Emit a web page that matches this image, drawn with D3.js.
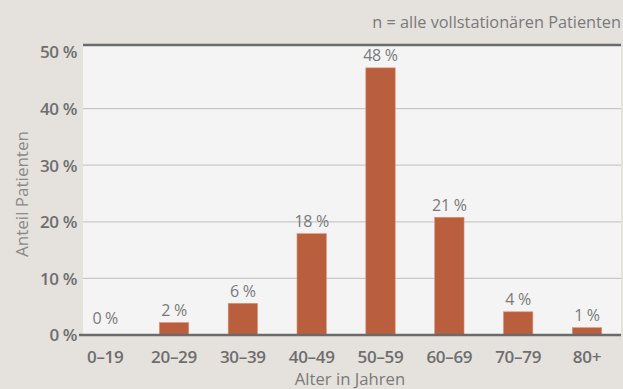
<!DOCTYPE html>
<html><head><meta charset="utf-8">
<script src="https://cdn.jsdelivr.net/npm/d3@7"></script>
<style>
html,body{margin:0;padding:0;background:#e5e1dd;}
svg{display:block;font-family:"Open Sans",sans-serif;}
</style></head>
<body><svg id="c" width="623" height="389"></svg>
<script>
const categories = ["0–19","20–29","30–39","40–49","50–59","60–69","70–79","80+"];
const values = [0, 2.2, 5.6, 17.9, 47.2, 20.8, 4.1, 1.3];
const valueLabels = ["0 %","2 %","6 %","18 %","48 %","21 %","4 %","1 %"];
const yTicks = [0,10,20,30,40,50];
const yTickLabels = ["0 %","10 %","20 %","30 %","40 %","50 %"];
const note = "n = alle vollstationären Patienten";
const xTitle = "Alter in Jahren";
const yTitle = "Anteil Patienten";

const svg = d3.select("#c");
const plotL = 83, plotR = 621, plotT = 45, plotB = 335;
const y = d3.scaleLinear().domain([0,50]).range([plotB, 52]);
const x = d3.scaleBand().domain(categories).range([70.8, 621.4]).paddingInner(0).paddingOuter(0);
const barW = x.bandwidth()*0.427;

svg.append("rect").attr("x",plotL).attr("y",plotT).attr("width",plotR-plotL).attr("height",plotB-plotT).attr("fill","#f4f4f4");

// gridlines
svg.append("g").selectAll("line").data(yTicks.filter(t=>t>0 && t<50)).join("line")
  .attr("x1",plotL).attr("x2",plotR).attr("y1",d=>y(d)).attr("y2",d=>y(d))
  .attr("stroke","#c8c8c8").attr("stroke-width",1.2);

// bars
svg.append("g").selectAll("rect").data(values).join("rect")
  .attr("x",(d,i)=>x(categories[i])+x.bandwidth()/2-barW/2)
  .attr("y",d=>y(d)).attr("width",barW).attr("height",d=>plotB-y(d))
  .attr("fill","#b95f3e").attr("stroke","#d9957c").attr("stroke-width",0.6);

// value labels
svg.append("g").selectAll("text").data(values).join("text")
  .attr("x",(d,i)=>x(categories[i])+x.bandwidth()/2)
  .attr("y",d=>Math.min(y(d)-6.5, plotB-10.7)).attr("text-anchor","middle")
  .attr("font-size",16).attr("fill","#7a7a7a").attr("letter-spacing","-0.3")
  .text((d,i)=>valueLabels[i]);

// frame lines
svg.append("line").attr("x1",plotL).attr("x2",plotR).attr("y1",plotT).attr("y2",plotT).attr("stroke","#6b6b6b").attr("stroke-width",2.5);
svg.append("line").attr("x1",plotL-4).attr("x2",plotR).attr("y1",plotB).attr("y2",plotB).attr("stroke","#6b6b6b").attr("stroke-width",2.5);

// y axis labels
svg.append("g").selectAll("text").data(yTicks).join("text")
  .attr("x",77).attr("y",d=>y(d)+6.3).attr("text-anchor","end")
  .attr("font-size",17).attr("font-weight",600).attr("fill","#6e6e6e").attr("letter-spacing","-0.4")
  .text((d,i)=>yTickLabels[i]);

// x axis labels
svg.append("g").selectAll("text").data(categories).join("text")
  .attr("x",d=>x(d)+x.bandwidth()/2).attr("y",363).attr("text-anchor","middle")
  .attr("font-size",17).attr("font-weight",600).attr("fill","#6e6e6e").attr("letter-spacing","-0.3")
  .text(d=>d);

svg.append("text").attr("x",(plotL+plotR)/2 - 2).attr("y",385).attr("text-anchor","middle")
  .attr("font-size",16.7).attr("fill","#7a7a7a").text(xTitle);

svg.append("text").attr("transform","translate(28,194) rotate(-90)").attr("text-anchor","middle")
  .attr("font-size",17).attr("fill","#8a8a8a").text(yTitle);

svg.append("text").attr("x",621).attr("y",28).attr("text-anchor","end")
  .attr("font-size",16.3).attr("fill","#7a7a7a").text(note);
</script></body></html>
